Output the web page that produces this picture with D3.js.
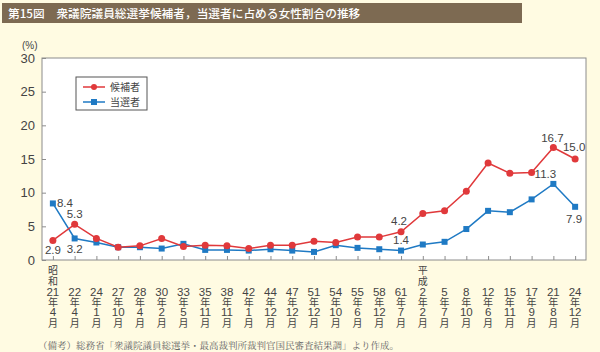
<!DOCTYPE html>
<html>
<head>
<meta charset="utf-8">
<script src="https://cdn.jsdelivr.net/npm/d3@7"></script>
<style>
  body { margin: 0; background: #fffbe2; }
  svg { display: block; }
</style>
</head>
<body>
<div id="container"></div>
<script>
// election labels (era line, year, month)
let eraLabels = ["昭和", "", "", "", "", "", "", "", "", "", "", "", "", "", "", "", "", "平成", "", "", "", "", "", "", ""];
let yearLabels = ["21", "22", "24", "27", "28", "30", "33", "35", "38", "42", "44", "47", "51", "54", "55", "58", "61", "2", "5", "8", "12", "15", "17", "21", "24"];
let monthLabels = ["4", "4", "1", "10", "4", "2", "5", "11", "11", "1", "12", "12", "12", "10", "6", "12", "7", "2", "7", "10", "6", "11", "9", "8", "12"];

// 候補者 / 当選者 (%)
let candidates = [2.9, 5.3, 3.2, 1.9, 2.1, 3.2, 2.0, 2.2, 2.1, 1.7, 2.2, 2.2, 2.8, 2.6, 3.4, 3.4, 4.2, 6.9, 7.3, 10.2, 14.4, 12.9, 13.0, 16.7, 15.0];
let elected = [8.4, 3.2, 2.6, 1.9, 1.9, 1.7, 2.4, 1.5, 1.5, 1.4, 1.6, 1.4, 1.2, 2.2, 1.8, 1.6, 1.4, 2.3, 2.7, 4.6, 7.3, 7.1, 9.0, 11.3, 7.9];

let yTicks = [0, 5, 10, 15, 20, 25, 30];

let w = 600;
let h = 352;
let red = "#e0393b";
let blue = "#1f7ac4";
let numFont = "'Liberation Sans', Arial, sans-serif";
let jpFont = "'Noto Sans CJK JP', sans-serif";

let viz = d3.select("#container")
  .append("svg")
  .attr("width", w)
  .attr("height", h)
  .style("background-color", "#fffbe2");

// title bar
viz.append("rect")
  .attr("x", 2).attr("y", 3)
  .attr("width", 520).attr("height", 20)
  .attr("fill", "#7d6a52");
viz.append("text")
  .attr("x", 8).attr("y", 17.5)
  .attr("fill", "#fff")
  .attr("font-family", jpFont)
  .attr("font-size", 11.7)
  .attr("font-weight", 500)
  .text("第15図　衆議院議員総選挙候補者，当選者に占める女性割合の推移");

let plotL = 42, plotR = 586, plotT = 58, plotB = 260;

let idx = d3.range(candidates.length);
let xScale = d3.scalePoint()
  .domain(idx)
  .range([plotL, plotR])
  .padding(0.5);

let yScale = d3.scaleLinear()
  .domain([0, 30])
  .range([plotB, plotT]);

// plot frame
viz.append("rect")
  .attr("x", plotL).attr("y", plotT)
  .attr("width", plotR - plotL).attr("height", plotB - plotT)
  .attr("fill", "#fff")
  .attr("stroke", "#8c8c8c")
  .attr("stroke-width", 1);

// y axis
let yAxis = viz.append("g")
  .attr("transform", `translate(${plotL}, 0)`)
  .call(d3.axisLeft(yScale).tickValues(yTicks).tickSize(-4).tickPadding(7));
yAxis.select(".domain").remove();
yAxis.selectAll("line").attr("stroke", "#8c8c8c");
yAxis.selectAll("text")
  .attr("font-family", numFont)
  .attr("font-size", 13)
  .attr("fill", "#444");

viz.append("text")
  .attr("x", 22).attr("y", 49)
  .attr("font-family", numFont)
  .attr("font-size", 10)
  .attr("fill", "#444")
  .text("(%)");

// x axis ticks (inside)
let xAxis = viz.append("g")
  .attr("transform", `translate(0, ${plotB})`)
  .call(d3.axisBottom(xScale).tickSize(-4).tickFormat(""));
xAxis.select(".domain").remove();
xAxis.selectAll("line").attr("stroke", "#8c8c8c");

// stacked x labels, one text per column
let labelG = viz.append("g")
  .attr("fill", "#444")
  .attr("text-anchor", "middle");
idx.forEach(i => {
  let x = xScale(i);
  let rows = [];
  if (eraLabels[i]) {
    rows.push([eraLabels[i][0], 274]);
    rows.push([eraLabels[i][1], 284.5]);
  }
  rows.push([yearLabels[i], 295.5]);
  rows.push(["年", 305.5]);
  rows.push([monthLabels[i], 316]);
  rows.push(["月", 326.5]);
  let t = labelG.append("text").attr("x", x).attr("y", rows[0][1]);
  rows.forEach(r => {
    t.append("tspan")
      .attr("x", x).attr("y", r[1])
      .attr("font-family", /\d/.test(r[0]) ? numFont : jpFont)
      .attr("font-size", /\d/.test(r[0]) ? 11.5 : 10)
      .text(r[0]);
  });
});

// lines
let lineMaker = d3.line()
  .x((d, i) => xScale(i))
  .y(d => yScale(d));

viz.append("path")
  .attr("d", lineMaker(elected))
  .attr("fill", "none")
  .attr("stroke", blue)
  .attr("stroke-width", 1.5);
viz.append("path")
  .attr("d", lineMaker(candidates))
  .attr("fill", "none")
  .attr("stroke", red)
  .attr("stroke-width", 1.5);

viz.selectAll(".blue-pt")
  .data(elected)
  .enter()
  .append("rect")
  .attr("x", (d, i) => xScale(i) - 3)
  .attr("y", d => yScale(d) - 3)
  .attr("width", 6).attr("height", 6)
  .attr("fill", blue);

viz.selectAll(".red-pt")
  .data(candidates)
  .enter()
  .append("circle")
  .attr("cx", (d, i) => xScale(i))
  .attr("cy", d => yScale(d))
  .attr("r", 3.5)
  .attr("fill", red);

// value labels
let valueLabels = [
  {i: 0, v: candidates[0], dx: 0, dy: 14, anchor: "middle"},
  {i: 0, v: elected[0], dx: 4, dy: 4, anchor: "start"},
  {i: 1, v: candidates[1], dx: 0, dy: -6, anchor: "middle"},
  {i: 1, v: elected[1], dx: 0, dy: 15, anchor: "middle"},
  {i: 16, v: candidates[16], dx: -2, dy: -7, anchor: "middle"},
  {i: 16, v: elected[16], dx: 0, dy: -7, anchor: "middle"},
  {i: 23, v: candidates[23], dx: -1, dy: -6, anchor: "middle"},
  {i: 24, v: candidates[24], dx: -1, dy: -8, anchor: "middle"},
  {i: 23, v: elected[23], dx: -8, dy: -6, anchor: "middle"},
  {i: 24, v: elected[24], dx: -1, dy: 16, anchor: "middle"}
];
viz.selectAll(".val")
  .data(valueLabels)
  .enter()
  .append("text")
  .attr("x", d => xScale(d.i) + d.dx)
  .attr("y", d => yScale(d.v) + d.dy)
  .attr("text-anchor", d => d.anchor)
  .attr("font-family", numFont)
  .attr("font-size", 11.5)
  .attr("fill", "#444")
  .text(d => d.v.toFixed(1));

// legend
let legend = viz.append("g");
legend.append("rect")
  .attr("x", 76).attr("y", 77)
  .attr("width", 71).attr("height", 33)
  .attr("fill", "#fff")
  .attr("stroke", "#555")
  .attr("stroke-width", 1);
[["候補者", red, "circle"], ["当選者", blue, "rect"]].forEach((s, k) => {
  let y = 87 + k * 15;
  legend.append("line")
    .attr("x1", 83).attr("x2", 105)
    .attr("y1", y).attr("y2", y)
    .attr("stroke", s[1]).attr("stroke-width", 1.5);
  if (s[2] == "circle") {
    legend.append("circle").attr("cx", 94).attr("cy", y).attr("r", 3).attr("fill", s[1]);
  } else {
    legend.append("rect").attr("x", 91).attr("y", y - 3).attr("width", 6).attr("height", 6).attr("fill", s[1]);
  }
  legend.append("text")
    .attr("x", 110).attr("y", y + 4)
    .attr("font-family", jpFont)
    .attr("font-size", 10)
    .attr("fill", "#444")
    .text(s[0]);
});

// note
viz.append("text")
  .attr("x", 38).attr("y", 349)
  .attr("font-family", "'Noto Serif CJK JP', 'Noto Sans CJK JP', serif")
  .attr("font-size", 9.5)
  .attr("fill", "#666")
  .text("（備考）総務省「衆議院議員総選挙・最高裁判所裁判官国民審査結果調」より作成。");
</script>
</body>
</html>
